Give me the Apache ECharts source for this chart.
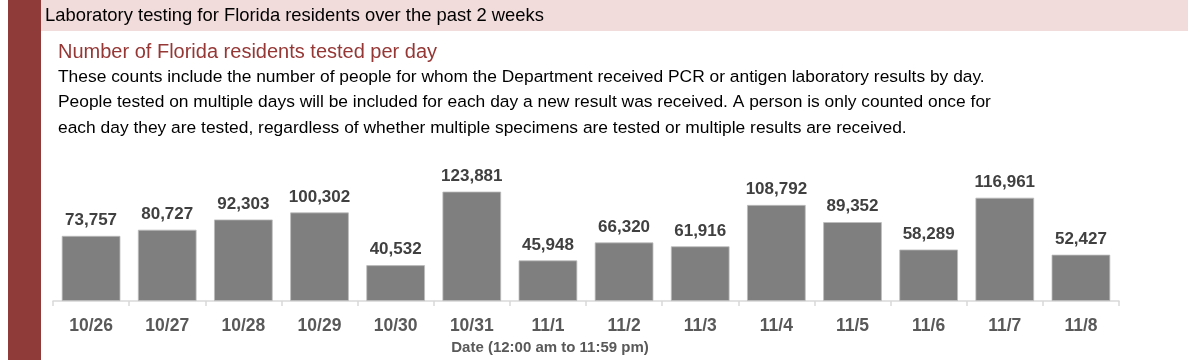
<!DOCTYPE html>
<html>
<head>
<meta charset="utf-8">
<script src="https://cdn.jsdelivr.net/npm/echarts@6/dist/echarts.min.js"></script>
<style>html,body{margin:0;padding:0;background:#fff}#c{width:1200px;height:360px}</style>
</head>
<body>
<div id="c"></div>
<script>
const categories = ['10/26','10/27','10/28','10/29','10/30','10/31','11/1','11/2','11/3','11/4','11/5','11/6','11/7','11/8'];
const tested = [73757, 80727, 92303, 100302, 40532, 123881, 45948, 66320, 61916, 108792, 89352, 58289, 116961, 52427];
const headerText = 'Laboratory testing for Florida residents over the past 2 weeks';
const subtitleText = 'Number of Florida residents tested per day';
const descLines = [
  'These counts include the number of people for whom the Department received PCR or antigen laboratory results by day.',
  'People tested on multiple days will be included for each day a new result was received. A person is only counted once for',
  'each day they are tested, regardless of whether multiple specimens are tested or multiple results are received.'
];
const axisNameText = 'Date (12:00 am to 11:59 pm)';

const chart = echarts.init(document.getElementById('c'), null, {renderer: 'canvas'});
const ff = '"Liberation Sans", Arial, sans-serif';
const graphics = [
  {type: 'rect', shape: {x: 8, y: 0, width: 33, height: 360}, style: {fill: '#8E3B3A'}, z: 0},
  {type: 'rect', shape: {x: 41, y: 0, width: 1147, height: 31}, style: {fill: '#F2DCDB'}, z: 0},
  {type: 'text', x: 45, y: 16, style: {text: headerText, font: '18.4px ' + ff, fill: '#000', textVerticalAlign: 'middle'}},
  {type: 'text', x: 58, y: 52, style: {text: subtitleText, font: '20px ' + ff, fill: '#953735', textVerticalAlign: 'middle'}},
  {type: 'text', x: 550, y: 348, style: {text: axisNameText, font: 'bold 15px ' + ff, fill: '#595959', textAlign: 'center', textVerticalAlign: 'middle'}}
];
descLines.forEach((t, i) => {
  graphics.push({type: 'text', x: 58, y: 77 + i * 25.5, style: {text: t, font: '17.4px ' + ff, fill: '#000', textVerticalAlign: 'middle'}});
});

chart.setOption({
  animation: false,
  grid: {left: 53, right: 81, bottom: 59, top: 177.4, containLabel: false},
  xAxis: {
    type: 'category',
    data: categories,
    boundaryGap: true,
    axisLine: {lineStyle: {color: '#D9D9D9', width: 1.5}},
    axisTick: {show: true, length: 5, lineStyle: {color: '#D9D9D9', width: 1.5}},
    axisLabel: {color: '#595959', fontSize: 17.5, fontWeight: 'bold', fontFamily: ff, margin: 16}
  },
  yAxis: {
    type: 'value', min: 0, max: 140000,
    show: false,
    splitLine: {show: false}
  },
  series: [{
    type: 'bar',
    data: tested,
    barCategoryGap: '23%',
    itemStyle: {color: '#7F7F7F', borderColor: '#BDBDBD', borderWidth: 0.8},
    label: {
      show: true, position: 'top', distance: 7,
      color: '#404040', fontSize: 17, fontWeight: 'bold', fontFamily: ff,
      formatter: p => p.value.toLocaleString('en-US')
    }
  }],
  graphic: graphics
});
</script>
</body>
</html>
